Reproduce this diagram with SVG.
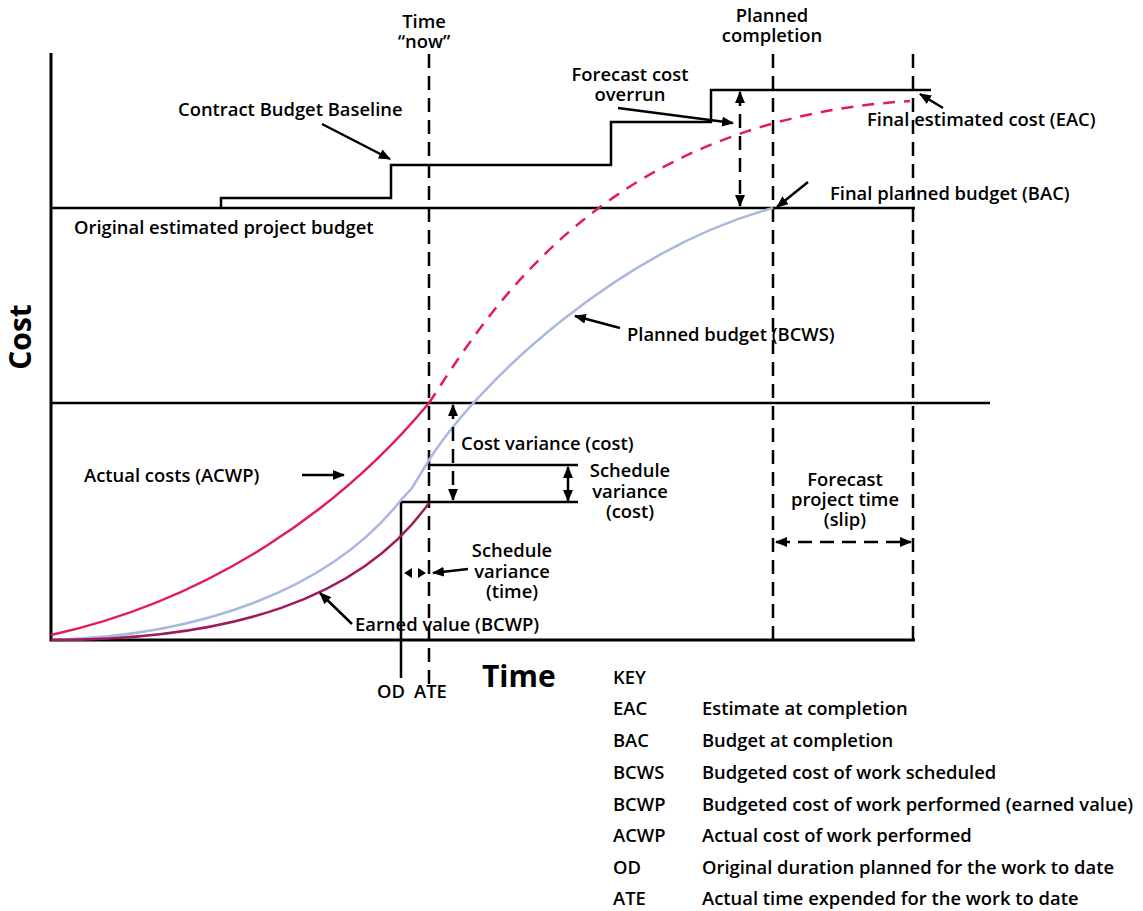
<svg xmlns="http://www.w3.org/2000/svg" width="1143" height="911" viewBox="0 0 1143 911">
<defs>
<marker id="ah" markerUnits="userSpaceOnUse" markerWidth="12" markerHeight="10" refX="11" refY="5" orient="auto-start-reverse" viewBox="0 0 12 10"><path d="M0,0 L12,5 L0,10 z" fill="#000"/></marker>
<style>
.t{font-family:"Open Sans","Noto Sans","Liberation Sans",sans-serif;font-weight:600;font-size:18.4px;fill:#000}
.c{text-anchor:middle}
.big{font-size:30px;font-weight:700}
.ax{stroke:#000;stroke-width:3;fill:none}
.ln{stroke:#000;stroke-width:2.5;fill:none}
.dash{stroke:#000;stroke-width:2.5;fill:none;stroke-dasharray:14 8}
.lead{stroke:#000;stroke-width:2.5;fill:none;marker-end:url(#ah)}
</style>
</defs>
<rect width="1143" height="911" fill="#fff"/>
<g id="axes">
<path class="ax" d="M51,53 V640 H915"/>
<path class="ln" d="M51,208 H915"/>
<path class="ln" d="M51,403 H990"/>
</g>
<g id="guides">
<path class="dash" d="M429,54 V690"/>
<path class="dash" d="M773,54 V640"/>
<path class="dash" d="M913,54 V640"/>
<path class="ln" d="M401,678 V502 H578"/>
<path class="ln" d="M429,470 V465 H578"/>
</g>
<g id="baseline">
<path class="ln" d="M221,208 V198 H391 V165 H611 V122 H711 V90 H931"/>
</g>
<g id="curves">
<path d="M51,640 C200,636 330,590 401,500 L412,488 L429,460 C480,380 620,250 773,208" stroke="#a8b8de" stroke-width="2.5" fill="none"/>
<path d="M51,640 C230,640 360,600 429,503" stroke="#9e1a5c" stroke-width="2.5" fill="none"/>
<path d="M51,635 C210,600 340,510 429,403" stroke="#e31b5d" stroke-width="2.5" fill="none"/>
<path d="M429,403 C490,310 605,120 910,101" stroke="#e31b5d" stroke-width="2.5" fill="none" stroke-dasharray="12 9"/>
</g>
<g id="connectors">
<path class="lead" d="M322,124 L390,159"/>
<path class="lead" d="M618,108 L733,123"/>
<path class="lead" d="M943,108 L920,94"/>
<path class="lead" d="M808,182 L777,207"/>
<path class="lead" d="M620,328 L575,316"/>
<path class="lead" d="M302,475 L344,475"/>
<path class="lead" d="M352,624 L320,593"/>
<path class="lead" d="M468,569 L433,573"/>
<path class="dash" d="M740,92 V206" stroke-dasharray="10 8" marker-start="url(#ah)" marker-end="url(#ah)"/>
<path class="dash" d="M453,405 V500" stroke-dasharray="10 8" marker-start="url(#ah)" marker-end="url(#ah)"/>
<path class="ln" d="M568,467 V501" marker-start="url(#ah)" marker-end="url(#ah)"/>
<path class="dash" d="M776,542 H911" stroke-dasharray="12 10" marker-start="url(#ah)" marker-end="url(#ah)"/>
<polygon points="404,573 412,568 412,578" fill="#000"/>
<polygon points="426,573 418,568 418,578" fill="#000"/>
</g>
<g id="labels">
<text class="t c" x="424" y="28">Time<tspan x="424" dy="20">“now”</tspan></text>
<text class="t c" x="772" y="22">Planned<tspan x="772" dy="20">completion</tspan></text>
<text class="t c" x="630" y="81">Forecast cost<tspan x="630" dy="20">overrun</tspan></text>
<text class="t" x="178" y="116">Contract Budget Baseline</text>
<text class="t" x="867" y="126">Final estimated cost (EAC)</text>
<text class="t" x="830" y="200">Final planned budget (BAC)</text>
<text class="t" x="74" y="234">Original estimated project budget</text>
<text class="t big" transform="translate(31,337) rotate(-90)" text-anchor="middle">Cost</text>
<text class="t" x="627" y="341">Planned budget (BCWS)</text>
<text class="t" x="461" y="450">Cost variance (cost)</text>
<text class="t c" x="630" y="477">Schedule<tspan x="630" dy="21">variance</tspan><tspan x="630" dy="20">(cost)</tspan></text>
<text class="t" x="84" y="482">Actual costs (ACWP)</text>
<text class="t c" x="845" y="486">Forecast<tspan x="845" dy="20">project time</tspan><tspan x="845" dy="20">(slip)</tspan></text>
<text class="t c" x="512" y="557">Schedule<tspan x="512" dy="21">variance</tspan><tspan x="512" dy="20">(time)</tspan></text>
<text class="t" x="355" y="631">Earned value (BCWP)</text>
<text class="t big" x="482" y="687">Time</text>
<text class="t" x="377" y="698">OD</text>
<text class="t" x="414" y="698">ATE</text>
</g>
<g id="key">
<text class="t" x="613" y="684">KEY</text>
<text class="t" x="613" y="715">EAC</text><text class="t" x="702" y="715">Estimate at completion</text>
<text class="t" x="613" y="747">BAC</text><text class="t" x="702" y="747">Budget at completion</text>
<text class="t" x="613" y="779">BCWS</text><text class="t" x="702" y="779">Budgeted cost of work scheduled</text>
<text class="t" x="613" y="811">BCWP</text><text class="t" x="702" y="811">Budgeted cost of work performed (earned value)</text>
<text class="t" x="613" y="842">ACWP</text><text class="t" x="702" y="842">Actual cost of work performed</text>
<text class="t" x="613" y="874">OD</text><text class="t" x="702" y="874">Original duration planned for the work to date</text>
<text class="t" x="613" y="905">ATE</text><text class="t" x="702" y="905">Actual time expended for the work to date</text>
</g>
</svg>
